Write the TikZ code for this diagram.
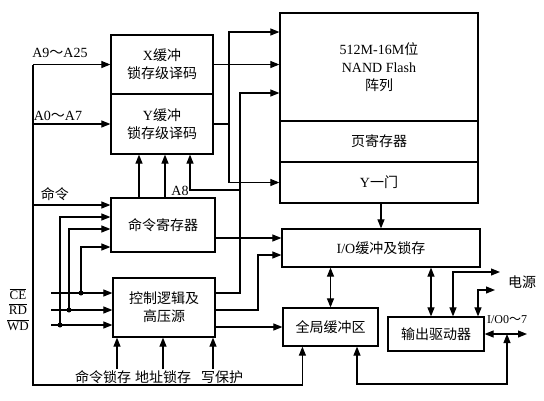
\documentclass[tikz,border=0pt]{standalone}
\usepackage{fontspec}
\setmainfont{Liberation Serif}
\newfontfamily\cjk{Noto Sans CJK SC}
\usetikzlibrary{arrows.meta, calc}

\begin{document}
\begin{tikzpicture}[
        x=1pt, y=-1pt,
        box/.style={
            rectangle,
            draw=black,
            line width=1.2pt,
            align=center,
            inner sep=0pt,
            font=\fontsize{14}{18}\selectfont
        },
        arrow/.style={
            -{Triangle[length=9pt, width=7pt]},
            line width=1.1pt
        },
        dblarrow/.style={
            {Triangle[length=9pt, width=7pt]}-{Triangle[length=9pt, width=7pt]},
            line width=1.1pt
        },
        wire/.style={line width=1.1pt},
        lbl/.style={font=\fontsize{14}{18}\selectfont, inner sep=1pt},
        dot/.style={circle, fill=black, inner sep=0pt, minimum size=5pt}
    ]

    \useasboundingbox (0,0) rectangle (544,400);

    % Nodes
    \node[box, minimum width=102pt, minimum height=59pt] (xbuf) at (162,64.5) {X{\cjk 缓冲}\\{\cjk 锁存级译码}};
    \node[box, minimum width=102pt, minimum height=60pt] (ybuf) at (162,124) {Y{\cjk 缓冲}\\{\cjk 锁存级译码}};
    \node[box, minimum width=104pt, minimum height=54pt] (cmdreg) at (163,225) {{\cjk 命令寄存器}};
    \node[box, minimum width=102pt, minimum height=59pt] (ctrl) at (164,307.5) {{\cjk 控制逻辑及}\\{\cjk 高压源}};
    \node[box, minimum width=198pt, minimum height=108pt] (flash) at (379,67) {512M-16M{\cjk 位}\\NAND Flash\\{\cjk 阵列}};
    \node[box, minimum width=198pt, minimum height=41pt] (pagereg) at (379,141.5) {{\cjk 页寄存器}};
    \node[box, minimum width=198pt, minimum height=41pt] (ygate) at (379,182.5) {Y{\cjk 一门}};
    \node[box, minimum width=198pt, minimum height=38pt] (iobuf) at (381,248) {I/O{\cjk 缓冲及锁存}};
    \node[box, minimum width=95pt, minimum height=38pt] (gbuf) at (330.5,327) {{\cjk 全局缓冲区}};
    \node[box, minimum width=96pt, minimum height=34pt] (outdrv) at (436,334) {{\cjk 输出驱动器}};

    % Labels
    \node[lbl] (la9) at (60,53) {A9{\cjk ～}A25};
    \node[lbl] (la0) at (58,116) {A0{\cjk ～}A7};
    \node[lbl] (lcmd) at (55,194) {{\cjk 命令}};
    \node[lbl] (la8) at (180,191) {A8};
    \node[lbl, font=\fontsize{13}{15}\selectfont] (lce) at (18,294) {$\overline{\mbox{CE}}$};
    \node[lbl, font=\fontsize{13}{15}\selectfont] (lrd) at (18,309) {$\overline{\mbox{RD}}$};
    \node[lbl, font=\fontsize{13}{15}\selectfont] (lwd) at (18,325) {$\overline{\mbox{WD}}$};
    \node[lbl] (lcl) at (103,377) {{\cjk 命令锁存}};
    \node[lbl] (lal) at (163,377) {{\cjk 地址锁存}};
    \node[lbl] (lwp) at (222,377) {{\cjk 写保护}};
    \node[lbl] (lpwr) at (522,282) {{\cjk 电源}};
    \node[lbl, font=\fontsize{12}{14}\selectfont] (lio) at (507,320) {I/O0{\cjk ～}7};

    % Left bus
    \coordinate (ltop) at (33,64.5);
    \coordinate (lbot) at (33,385);
    \coordinate (gin) at ($(gbuf.south west)+(20,0)$);
    \coordinate (cmdin) at (33,205);
    \draw[arrow] (ltop) -- (xbuf.west);
    \draw[arrow] (ltop) |- (ybuf.west);
    \draw[arrow] (ltop) -- (lbot) -| (gin);
    \draw[arrow] (cmdin) -- (cmdin -| cmdreg.west);

    % CE RD WD
    \coordinate (cein) at (51,293);
    \coordinate (rdin) at (51,310);
    \coordinate (wdin) at (51,325);
    \coordinate (ced) at (81,293);
    \coordinate (rdd) at (69,310);
    \coordinate (wdd) at (60,325);
    \coordinate (ceup) at (81,247);
    \coordinate (rdup) at (69,229);
    \coordinate (wdup) at (60,217);
    \draw[arrow] (cein) -- (cein -| ctrl.west);
    \draw[arrow] (rdin) -- (rdin -| ctrl.west);
    \draw[arrow] (wdin) -- (wdin -| ctrl.west);
    \draw[arrow] (ced) -- (ceup) -- (ceup -| cmdreg.west);
    \draw[arrow] (rdd) -- (rdup) -- (rdup -| cmdreg.west);
    \draw[arrow] (wdd) -- (wdup) -- (wdup -| cmdreg.west);
    \node[dot] (d1) at (ced) {};
    \node[dot] (d2) at (rdd) {};
    \node[dot] (d3) at (wdd) {};

    % Bottom inputs
    \coordinate (b1) at ([xshift=14pt]lcl.north);
    \coordinate (b2) at (lal.north);
    \coordinate (b3) at ([xshift=-9pt]lwp.north);
    \draw[arrow] (b1) -- (b1 |- ctrl.south);
    \draw[arrow] (b2) -- (b2 |- ctrl.south);
    \draw[arrow] (b3) -- (b3 |- ctrl.south);

    % Command register to Y decoder
    \coordinate (cr1) at ([xshift=-24pt]cmdreg.north);
    \coordinate (cr2) at ([xshift=2pt]cmdreg.north);
    \draw[arrow] (cr1) -- (cr1 |- ybuf.south);
    \draw[arrow] (cr2) -- (cr2 |- ybuf.south);

    % Decoders to array
    \coordinate (ybt) at (229,32);
    \coordinate (ybb) at (229,182.5);
    \draw[arrow] (xbuf.east) -- (xbuf.east -| flash.west);
    \draw[wire] (ybuf.east) -- (ybuf.east -| ybt);
    \draw[arrow] (ybb) -- (ybt) -- (ybt -| flash.west);
    \draw[arrow] (ybb) -- (ygate.west);

    % Control logic outputs
    \coordinate (c1a) at (240,293);
    \coordinate (c1b) at (240,93);
    \coordinate (a8a) at (240,190);
    \coordinate (a8b) at (190,190);
    \coordinate (c2a) at (258,310);
    \coordinate (c2b) at (258,255);
    \coordinate (crout) at (250,238);
    \draw[arrow] (c1a -| ctrl.east) -- (c1a) -- (c1b) -- (c1b -| flash.west);
    \draw[arrow] (a8a) -- (a8b) -- (a8b |- ybuf.south);
    \draw[arrow] (c2a -| ctrl.east) -- (c2a) -- (c2b) -- (c2b -| iobuf.west);
    \draw[arrow] (gbuf.west -| ctrl.east) -- (gbuf.west);
    \draw[arrow] (crout -| cmdreg.east) -- (crout -| iobuf.west);

    % Buffers and driver
    \coordinate (od1) at ([xshift=-5pt]outdrv.north);
    \coordinate (od2) at ([xshift=17pt]outdrv.north);
    \coordinate (od3) at ([xshift=42pt]outdrv.north);
    \coordinate (pw1) at (500,272);
    \coordinate (pw2) at (495,290);
    \coordinate (ioend) at (527,334);
    \coordinate (gb2) at ([xshift=26.5pt]gbuf.south);
    \coordinate (brc) at (507,384);
    \draw[arrow] (iobuf.north |- ygate.south) -- (iobuf.north);
    \draw[dblarrow] (gbuf.north |- iobuf.south) -- (gbuf.north);
    \draw[dblarrow] (od1 |- iobuf.south) -- (od1);
    \draw[dblarrow] (od2) |- (pw1);
    \draw[dblarrow] (od3) |- (pw2);
    \draw[dblarrow] (outdrv.east) -- (outdrv.east -| ioend);
    \draw[dblarrow] (gb2) |- (brc) -- (brc |- outdrv.east);

\end{tikzpicture}
\end{document}
